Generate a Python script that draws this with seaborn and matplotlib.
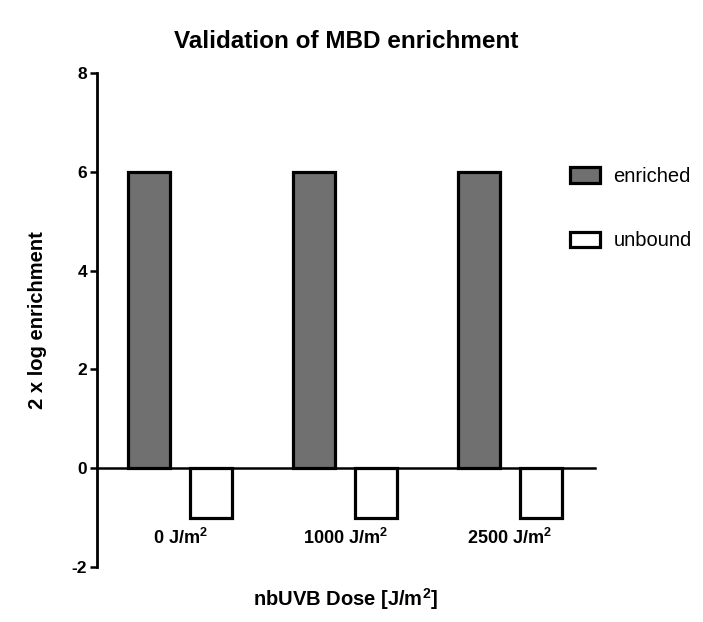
import matplotlib
matplotlib.use("Agg")
import matplotlib.pyplot as plt
import seaborn as sns
import pandas as pd

# Data
doses = ["0 J/m$^{2}$", "1000 J/m$^{2}$", "2500 J/m$^{2}$"]
enriched = [6, 6, 6]
unbound = [-1, -1, -1]
series = ["enriched", "unbound"]
colors = {"enriched": "#707070", "unbound": "#ffffff"}

df = pd.DataFrame({
    "dose": doses * 2,
    "value": enriched + unbound,
    "series": [series[0]] * len(doses) + [series[1]] * len(doses),
})

sns.set_theme(style="white", rc={"text.color": "black", "axes.labelcolor": "black",
                                 "xtick.color": "black", "ytick.color": "black"})
plt.rcParams["font.family"] = ["Liberation Sans", "DejaVu Sans"]
plt.rcParams["mathtext.fontset"] = "custom"
plt.rcParams["mathtext.rm"] = "Liberation Sans:bold"
plt.rcParams["mathtext.it"] = "Liberation Sans:bold"
plt.rcParams["axes.unicode_minus"] = False

fig = plt.figure(figsize=(7.03, 6.22), dpi=100)
ax = fig.add_axes([0.138, 0.088, 0.708, 0.795])

sns.barplot(data=df, x="dose", y="value", hue="series", palette=colors,
            edgecolor="black", linewidth=2.3, width=0.75, gap=0.32,
            saturation=1, ax=ax, legend=False)

ax.set_xlim(-0.505, 2.515)
ax.set_ylim(-2, 8)
ax.set_yticks([-2, 0, 2, 4, 6, 8])

for s in ["top", "right"]:
    ax.spines[s].set_visible(False)
ax.spines["left"].set_linewidth(2)
ax.spines["left"].set_color("black")
ax.spines["bottom"].set_position(("data", 0))
ax.spines["bottom"].set_linewidth(1.8)
ax.spines["bottom"].set_color("black")
ax.spines["bottom"].set_zorder(0.5)

ax.tick_params(axis="y", length=5, width=1.8, color="black", labelsize=12.5, pad=2, left=True)
ax.tick_params(axis="x", length=0, labelsize=13, pad=43)
for lab in ax.get_yticklabels() + ax.get_xticklabels():
    lab.set_fontweight("bold")

ax.set_xlabel("nbUVB Dose [J/m$^{2}$]", fontsize=14.5, fontweight="bold")
ax.xaxis.set_label_coords(0.5, -0.038)
ax.set_ylabel("2 x log enrichment", fontsize=14.5, fontweight="bold")
ax.yaxis.set_label_coords(-0.100, 0.5)
ax.set_title("Validation of MBD enrichment", fontsize=17.5, fontweight="bold", pad=18)

handles = [plt.Rectangle((0, 0), 1, 1, facecolor=colors[s], edgecolor="black", linewidth=2.3)
           for s in series]
fig.legend(handles, series, frameon=False, fontsize=14.5, loc="upper left",
           bbox_to_anchor=(570 / 703, 1 - 167 / 622), bbox_transform=fig.transFigure,
           borderpad=0, borderaxespad=0, handlelength=1.5, handleheight=0.8,
           labelspacing=2.25, handletextpad=0.65)

fig.savefig("out.png", dpi=100)
